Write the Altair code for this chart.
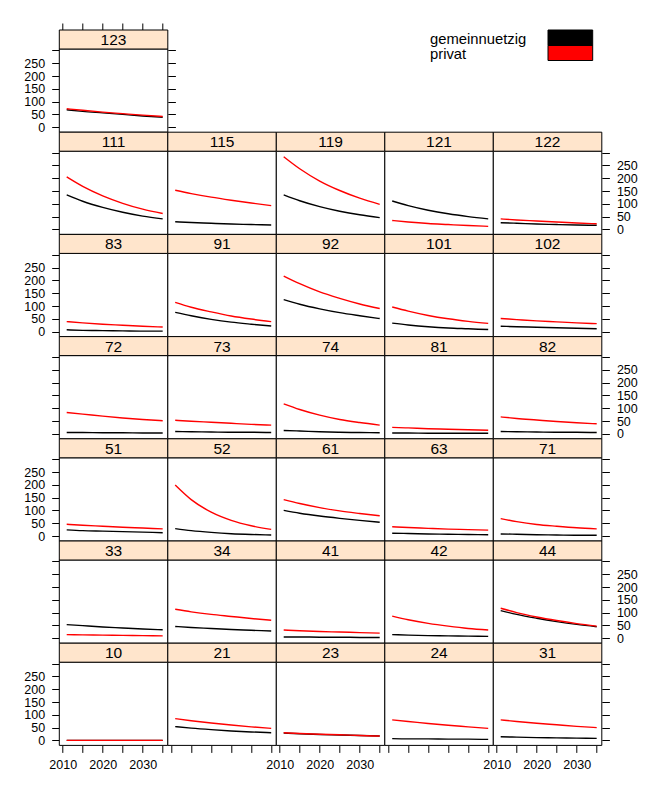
import altair as alt
import pandas as pd

# ---------------- data ----------------
years = [2011, 2015, 2020, 2025, 2030, 2035]
series_names = ["gemeinnuetzig", "privat"]
series_colors = ["#000000", "#ff0000"]

layout_rows = [
    ["123"],
    ["111", "115", "119", "121", "122"],
    ["83", "91", "92", "101", "102"],
    ["72", "73", "74", "81", "82"],
    ["51", "52", "61", "63", "71"],
    ["33", "34", "41", "42", "44"],
    ["10", "21", "23", "24", "31"],
]
panel_codes = [c for row in layout_rows for c in row]

# values per panel (same order as panel_codes), at the years above
gemeinnuetzig_values = [
    [68, 62, 56, 50, 44, 39],      # 123
    [135, 110, 86, 67, 52, 41],    # 111
    [30, 27, 24, 21, 19, 17],      # 115
    [135, 112, 89, 71, 57, 46],    # 119
    [111, 93, 75, 61, 50, 41],     # 121
    [26, 24, 21, 19, 17, 16],      # 122
    [7, 5, 4, 3, 2, 2],            # 83
    [75, 62, 48, 37, 29, 22],      # 91
    [125, 107, 89, 74, 62, 51],    # 92
    [33, 26, 19, 14, 11, 8],       # 101
    [21, 19, 17, 15, 13, 11],      # 102
    [5, 5, 4, 4, 3, 3],            # 72
    [9, 8, 7, 6, 6, 5],            # 73
    [13, 11, 8, 6, 5, 4],          # 74
    [3, 3, 2, 2, 2, 2],            # 81
    [9, 8, 7, 6, 6, 5],            # 82
    [24, 21, 19, 17, 15, 13],      # 51
    [29, 21, 14, 9, 6, 4],         # 52
    [100, 89, 78, 69, 61, 54],     # 61
    [11, 10, 8, 7, 6, 5],          # 63
    [8, 7, 5, 4, 3, 3],            # 71
    [53, 49, 44, 40, 36, 33],      # 33
    [46, 42, 38, 34, 31, 28],      # 34
    [5, 5, 4, 4, 3, 3],            # 41
    [14, 12, 10, 9, 8, 7],         # 42
    [108, 93, 78, 65, 54, 45],     # 44
    [0, 0, 0, 0, 0, 0],            # 10
    [54, 48, 42, 37, 33, 30],      # 21
    [29, 26, 23, 21, 19, 17],      # 23
    [7, 6, 6, 5, 5, 4],            # 24
    [14, 13, 11, 10, 9, 8],        # 31
]
privat_values = [
    [72, 66, 59, 53, 47, 42],      # 123
    [205, 168, 131, 102, 79, 62],  # 111
    [153, 140, 126, 114, 103, 93], # 115
    [284, 237, 189, 152, 122, 98], # 119
    [35, 29, 23, 19, 15, 12],      # 121
    [41, 37, 33, 29, 25, 22],      # 122
    [39, 34, 29, 25, 21, 18],      # 83
    [114, 95, 77, 61, 49, 39],     # 91
    [217, 187, 155, 130, 108, 90], # 92
    [96, 80, 63, 50, 40, 32],      # 101
    [51, 47, 42, 38, 34, 31],      # 102
    [83, 77, 69, 62, 56, 51],      # 72
    [53, 49, 45, 41, 37, 34],      # 73
    [117, 95, 73, 56, 44, 34],     # 74
    [25, 23, 20, 18, 16, 14],      # 81
    [66, 60, 54, 48, 43, 39],      # 82
    [46, 42, 38, 34, 31, 28],      # 51
    [199, 142, 93, 61, 40, 26],    # 52
    [142, 127, 111, 98, 88, 79],   # 61
    [36, 33, 30, 27, 25, 23],      # 63
    [68, 56, 45, 38, 32, 28],      # 71
    [14, 13, 12, 11, 10, 9],       # 33
    [113, 103, 93, 85, 77, 70],    # 34
    [32, 29, 26, 24, 22, 20],      # 41
    [86, 72, 58, 47, 38, 32],      # 42
    [117, 100, 83, 69, 57, 47],    # 44
    [0, 0, 0, 0, 0, 0],            # 10
    [85, 77, 68, 60, 53, 47],      # 21
    [30, 27, 24, 22, 19, 17],      # 23
    [80, 74, 66, 59, 53, 47],      # 24
    [80, 74, 67, 61, 55, 50],      # 31
]

y_tick_values = [0, 50, 100, 150, 200, 250, 300]
x_tick_values = [2010, 2015, 2020, 2025, 2030, 2035]

# ---------------- layout constants (lattice-like trellis) ----------------
W, H, S = 108.5, 83.2, 19.0          # panel width, panel height, strip height (px)
NCOL, NROW = 5, len(layout_rows)
X_LO = 2009.15                        # left limit of each panel (years)
XSPAN = W / 4.0                       # years covered by one panel width
Y_LO, Y_HI = -19.5, 305.5             # y limits of each panel
D = Y_HI - Y_LO
SU = D * S / H                        # strip height in y units
YSPAN = D + SU
GW = NCOL * W
GH = NROW * (H + S)
LEFT, TOP = 59.3, 30.0
FONT = "Liberation Sans"
STRIP_BG = "#ffe5cc"

# panel position table
pos = []
for r, row in enumerate(layout_rows):
    for c, code in enumerate(row):
        pos.append({"panel": code, "col": c, "blk": NROW - 1 - r})
panels_df = pd.DataFrame(pos)
col_of = dict(zip(panels_df.panel, panels_df.col))
blk_of = dict(zip(panels_df.panel, panels_df.blk))

records = []
for code, g, p in zip(panel_codes, gemeinnuetzig_values, privat_values):
    for name, vals in ((series_names[0], g), (series_names[1], p)):
        for yr, v in zip(years, vals):
            records.append({"panel": code, "col": col_of[code], "blk": blk_of[code],
                            "year": yr, "value": v, "series": name})
df = pd.DataFrame(records)
legend_df = pd.DataFrame({"series": series_names, "color": series_colors})

XS = alt.Scale(domain=[0, NCOL * XSPAN], nice=False, zero=False)
YS = alt.Scale(domain=[0, NROW * YSPAN], nice=False, zero=False)
CS = alt.Scale(domain=series_names, range=series_colors)


def y_ticks(blocks):
    return [round(b * YSPAN + (v - Y_LO), 4) for b in blocks for v in y_tick_values]


def x_ticks(cols):
    return [round(c * XSPAN + (yr - X_LO), 4) for c in cols for yr in x_tick_values]


yb = f"floor(datum.value / {YSPAN})"
yv = f"round(datum.value - {yb} * {YSPAN} + ({Y_LO}))"
xc = f"floor(datum.value / {XSPAN})"
xv = f"round(datum.value - {xc} * {XSPAN} + {X_LO})"


def y_label_expr(parity):
    return f"({yb} % 2 == {parity}) && ({yv} < 300) ? '' + {yv} : ''"


x_label_expr = f"({xc} % 2 == 0) && ({xv} % 10 == 0) ? '' + {xv} : ''"


def y_axis(orient, values, label_expr=None, offset=None):
    kw = dict(orient=orient, values=values, title=None, grid=False, domain=False,
              ticks=True, tickSize=7.6, tickColor="black", tickWidth=1,
              labelFont=FONT, labelFontSize=12.5, labelColor="black", labelPadding=7,
              labelOverlap=False, labelFlush=False)
    if label_expr is None:
        kw["labels"] = False
    else:
        kw["labelExpr"] = label_expr
    if offset is not None:
        kw["offset"] = offset
    return alt.Axis(**kw)


def x_axis(orient, values, label_expr=None):
    kw = dict(orient=orient, values=values, title=None, grid=False, domain=False,
              ticks=True, tickSize=7, tickColor="black", tickWidth=1,
              labelFont=FONT, labelFontSize=12.5, labelColor="black", labelPadding=6,
              labelOverlap=False, labelFlush=False)
    if label_expr is None:
        kw["labels"] = False
    else:
        kw["labelExpr"] = label_expr
    return alt.Axis(**kw)


geo = alt.Chart(panels_df).transform_calculate(
    x0=f"datum.col * {XSPAN}",
    x1=f"(datum.col + 1) * {XSPAN}",
    xm=f"(datum.col + 0.5) * {XSPAN}",
    yp0=f"datum.blk * {YSPAN}",
    yp1=f"datum.blk * {YSPAN} + {D}",
    ys1=f"(datum.blk + 1) * {YSPAN}",
    ym=f"datum.blk * {YSPAN} + {D} + {SU / 2}",
)

frames = geo.mark_rect(fill="white", stroke="black", strokeWidth=1).encode(
    x=alt.X("x0:Q", scale=XS, axis=None), x2="x1:Q",
    y=alt.Y("yp0:Q", scale=YS, axis=None), y2="yp1:Q",
)
strips = geo.mark_rect(fill=STRIP_BG, stroke="black", strokeWidth=1).encode(
    x=alt.X("x0:Q", scale=XS, axis=None), x2="x1:Q",
    y=alt.Y("yp1:Q", scale=YS, axis=None), y2="ys1:Q",
)
strip_text = geo.mark_text(font=FONT, fontSize=15.5, color="black",
                           align="center", baseline="middle", dy=0.5).encode(
    x=alt.X("xm:Q", scale=XS, axis=None),
    y=alt.Y("ym:Q", scale=YS, axis=None),
    text="panel:N",
)

lines = alt.Chart(df).transform_calculate(
    gx=f"datum.col * {XSPAN} + datum.year - {X_LO}",
    gy=f"datum.blk * {YSPAN} + datum.value - ({Y_LO})",
).mark_line(strokeWidth=1.4, interpolate="monotone").encode(
    x=alt.X("gx:Q", scale=XS,
            axis=x_axis("bottom", x_ticks(range(NCOL)), x_label_expr)),
    y=alt.Y("gy:Q", scale=YS,
            axis=y_axis("left", y_ticks(range(NROW)), y_label_expr(0))),
    color=alt.Color("series:N", scale=CS, legend=None),
    detail="panel:N",
)

# extra axes: top ticks over panel 123, right axis of the last column
axis_a = geo.mark_point(opacity=0).encode(
    x=alt.X("x0:Q", scale=XS, axis=x_axis("top", x_ticks([0]))),
    y=alt.Y("yp0:Q", scale=YS,
            axis=y_axis("right", y_ticks(range(NROW - 1)), y_label_expr(1))),
)
# right-side ticks of the lone top panel 123
axis_b = geo.mark_point(opacity=0).encode(
    x=alt.X("x0:Q", scale=XS, axis=None),
    y=alt.Y("yp0:Q", scale=YS,
            axis=y_axis("right", y_ticks([NROW - 1]), None, offset=-(GW - W))),
)

# key (top right)
leg = alt.Chart(legend_df)
text_y = [44.0 - TOP, 58.6 - TOP]
rect_y = [30.0 - TOP, 45.5 - TOP, 60.5 - TOP]
key_layers = []
for i, name in enumerate(series_names):
    sel = leg.transform_filter(alt.datum.series == name)
    key_layers.append(
        sel.mark_text(font=FONT, fontSize=14.8, color="black",
                      align="left", baseline="alphabetic").encode(
            text="series:N", x=alt.value(430.0 - LEFT), y=alt.value(text_y[i]))
    )
    key_layers.append(
        sel.mark_rect(stroke="black", strokeWidth=1).encode(
            fill=alt.value(series_colors[i]),
            x=alt.value(548.0 - LEFT), x2=alt.value(592.7 - LEFT),
            y=alt.value(rect_y[i]), y2=alt.value(rect_y[i + 1]))
    )

chart = (
    alt.layer(frames, lines, strips, strip_text, axis_a, axis_b, *key_layers)
    .resolve_axis(x="independent", y="independent")
    .properties(
        width=GW, height=GH,
        autosize=alt.AutoSizeParams(type="none"),
        padding={"left": LEFT, "top": TOP, "right": 651 - LEFT - GW,
                 "bottom": 787 - TOP - GH},
        background="white",
    )
    .configure_view(stroke=None)
)

chart.save("out.html", embed_options={"renderer": "svg", "actions": False})
